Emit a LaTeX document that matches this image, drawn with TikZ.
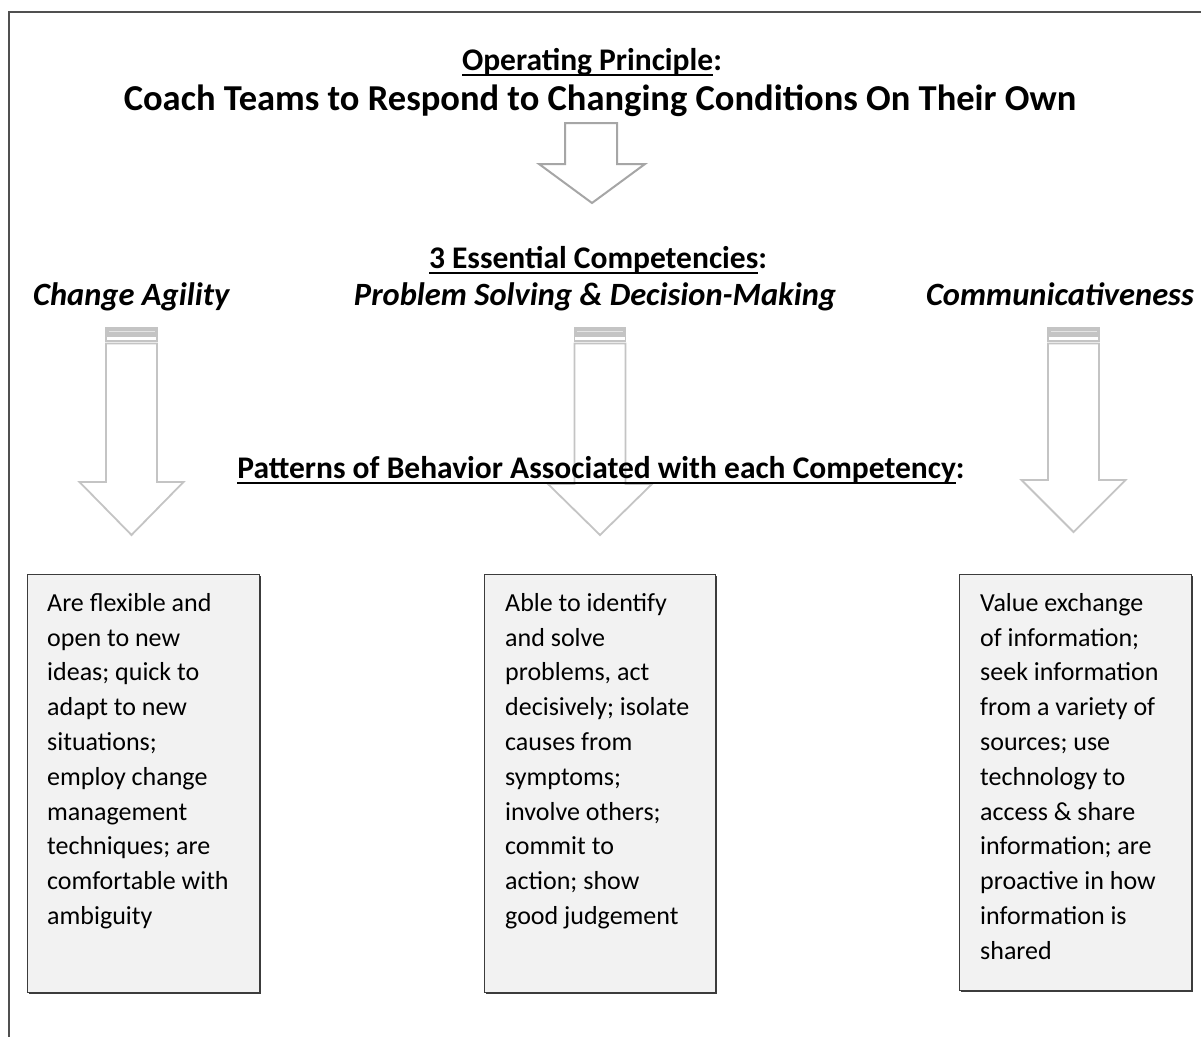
\documentclass[tikz,border=0pt]{standalone}
\usepackage{fontspec}
\setmainfont{Carlito}
\usetikzlibrary{shadows}

\definecolor{framegray}{HTML}{505050}
\definecolor{boxfill}{HTML}{F2F2F2}
\definecolor{boxline}{HTML}{3C3C3C}
\definecolor{bigarrow}{HTML}{A6A6A6}
\definecolor{colarrowgray}{HTML}{C4C4C4}
\definecolor{stripelight}{HTML}{E4E4E4}

% underline that sits just under the baseline, as in a word processor
\newcommand\headul[1]{\setbox0=\hbox{#1}\rlap{\rule[-0.2em]{\wd0}{0.065em}}\box0}

% hollow down-arrow with a striped cap: centre x, head y, tip y
\newcommand\competencyarrow[3]{%
  \fill[colarrowgray] (#1-25.5,328) rectangle (#1+25.5,334);
  \draw[colarrowgray, line width=1.5pt] (#1-25.5,328) rectangle (#1+25.5,334);
  \draw[stripelight, line width=1pt] (#1-23,331) -- (#1+23,331);
  \draw[colarrowgray, line width=1.5pt, fill=white] (#1-25.5,336) rectangle (#1+25.5,341);
  \draw[colarrowgray, line width=1.8pt, fill=white, line join=miter]
    (#1-25.5,343.5) -- (#1-25.5,#2) -- (#1-52,#2) -- (#1,#3)
    -- (#1+52,#2) -- (#1+25.5,#2) -- (#1+25.5,343.5) -- cycle;
}

\begin{document}
\begin{tikzpicture}[x=1pt, y=-1pt,
  heading/.style={anchor=base, inner sep=0, font=\fontsize{31.5}{38}\selectfont\bfseries},
  compname/.style={inner sep=0, font=\fontsize{32.5}{39}\selectfont\bfseries\itshape},
  behaviourbox/.style={draw=boxline, line width=0.8pt, fill=boxfill, inner sep=0,
    anchor=north west,
    drop shadow={shadow xshift=1.3pt, shadow yshift=-1.3pt, fill=boxline, opacity=1}},
  behaviourtext/.style={anchor=north west, inner sep=0, align=left,
    font=\fontsize{26}{34.8}\selectfont}]

\useasboundingbox (0,0) rectangle (1201,1036);

% open frame: left and top sides only
\draw[framegray, line width=2pt] (9,1040) -- (9,12) -- (1205,12);

% operating principle
\node[heading] (op) at (592,70) {\headul{Operating Principle}:};
\node[anchor=base, inner sep=0, font=\fontsize{36.5}{44}\selectfont\bfseries] (title)
  at (600,110) {Coach Teams to Respond to Changing Conditions On Their Own};

% big arrow down to the competencies
\draw[bigarrow, line width=2pt, fill=white, line join=miter]
  (565,123) -- (565,164) -- (539,164) -- (592,203) -- (645,164) -- (617,164) -- (617,123) -- cycle;

% competencies
\node[heading] (ess) at (598,268) {\headul{3 Essential Competencies}:};
\node[compname, anchor=base west] (ca) at (33,305) {Change Agility};
\node[compname, anchor=base] (ps) at (595,305) {Problem Solving \& Decision-Making};
\node[compname, anchor=base east] (cm) at (1194,305) {Communicativeness};

% arrows from each competency to its behaviours
\competencyarrow{131.5}{482}{535}
\competencyarrow{600}{484}{535}
\competencyarrow{1073.5}{480}{532}

\node[heading] (pat) at (601,478) {\headul{Patterns of Behavior Associated with each Competency}:};

% behaviour boxes
\node[behaviourbox, minimum width=232pt, minimum height=418pt] (b1) at (27,574) {};
\node[behaviourbox, minimum width=231pt, minimum height=418pt] (b2) at (484,574) {};
\node[behaviourbox, minimum width=232pt, minimum height=416pt] (b3) at (959,574) {};

\node[behaviourtext] (t1) at ([xshift=20pt, yshift=-19pt]b1.north west)
  {Are flexible and\\open to new\\ideas; quick to\\adapt to new\\situations;\\employ change\\management\\techniques; are\\comfortable with\\ambiguity};
\node[behaviourtext] (t2) at ([xshift=21pt, yshift=-19pt]b2.north west)
  {Able to identify\\and solve\\problems, act\\decisively; isolate\\causes from\\symptoms;\\involve others;\\commit to\\action; show\\good judgement};
\node[behaviourtext] (t3) at ([xshift=21pt, yshift=-19pt]b3.north west)
  {Value exchange\\of information;\\seek information\\from a variety of\\sources; use\\technology to\\access \& share\\information; are\\proactive in how\\information is\\shared};

\end{tikzpicture}
\end{document}
